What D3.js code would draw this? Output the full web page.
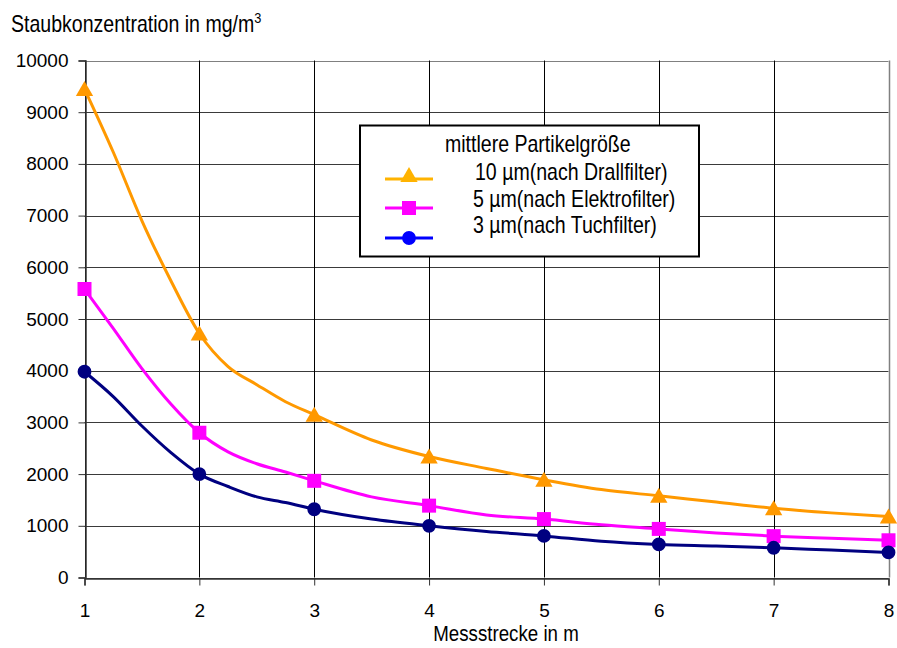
<!DOCTYPE html>
<html>
<head>
<meta charset="utf-8">
<script src="https://cdn.jsdelivr.net/npm/d3@7"></script>
<style>
  html, body { margin: 0; padding: 0; background: #fff; }
  svg { display: block; }
  text { font-family: "Liberation Sans", Arial, sans-serif; }
</style>
</head>
<body>
<svg id="chart" width="897" height="648"></svg>
<script>
// ---- data ----
const distances = [1, 1.25, 1.5, 1.75, 2, 2.25, 2.5, 2.75, 3, 3.5, 4, 4.5, 5, 5.5, 6, 6.5, 7, 7.5, 8];
const drallfilter = [9450, 8230, 6900, 5750, 4720, 4080, 3730, 3400, 3150, 2660, 2340, 2110, 1890, 1700, 1580, 1460, 1340, 1250, 1180];
const elektrofilter = [5580, 4820, 4040, 3360, 2800, 2430, 2200, 2040, 1870, 1560, 1390, 1210, 1130, 1020, 940, 860, 800, 760, 720];
const tuchfilter = [3980, 3500, 2930, 2420, 2000, 1760, 1560, 1450, 1320, 1130, 1000, 890, 805, 700, 640, 610, 575, 530, 485];
const xTicks = [1, 2, 3, 4, 5, 6, 7, 8];
const yTicks = [0, 1000, 2000, 3000, 4000, 5000, 6000, 7000, 8000, 9000, 10000];
const seriesNames = ["10 µm(nach Drallfilter)", "5 µm(nach Elektrofilter)", "3 µm(nach Tuchfilter)"];
const legendTitle = "mittlere Partikelgröße";
const yTitle = "Staubkonzentration in mg/m";
const xTitle = "Messstrecke in m";

const series = [
  { name: seriesNames[0], values: drallfilter, color: "#FF9900", legendColor: "#FFB300", symbol: d3.symbolTriangle, size: 130 },
  { name: seriesNames[1], values: elektrofilter, color: "#FF00FF", legendColor: "#FF00FF", symbol: d3.symbolSquare, size: 196 },
  { name: seriesNames[2], values: tuchfilter, color: "#000080", legendColor: "#0000FF", symbol: d3.symbolCircle, size: 150 }
];

const svg = d3.select("#chart");
const x = d3.scaleLinear().domain([1, 8]).range([84.5, 888.5]);
const y = d3.scaleLinear().domain([0, 10000]).range([577.5, 60.5]);

// condensed text helper
function narrowText(parent, tx, ty, size, str, anchor) {
  const g = parent.append("g").attr("transform", `translate(${tx},${ty}) scale(0.85,1)`);
  return g.append("text").attr("x", 0).attr("y", 0).attr("font-size", size)
    .attr("text-anchor", anchor || "start").attr("fill", "#000").text(str);
}

// grid lines
const grid = svg.append("g");
grid.selectAll(".hg").data(yTicks).join("line")
  .attr("x1", x(1)).attr("x2", x(8))
  .attr("y1", d => Math.round(y(d)) + 0.5).attr("y2", d => Math.round(y(d)) + 0.5)
  .attr("stroke", d => d === 10000 ? "#808080" : "#3a3a3a").attr("stroke-width", 1);
grid.selectAll(".vg").data(xTicks).join("line")
  .attr("x1", d => Math.round(x(d)) + 0.5).attr("x2", d => Math.round(x(d)) + 0.5)
  .attr("y1", y(10000)).attr("y2", y(0))
  .attr("stroke", d => d === 8 ? "#808080" : "#000").attr("stroke-width", d => d === 8 ? 1.5 : 1);

// axes
const yAxis = d3.axisLeft(y).tickValues(yTicks).tickSize(7).tickPadding(10).tickFormat(d3.format("d"));
const xAxis = d3.axisBottom(x).tickValues(xTicks).tickSize(7).tickPadding(18).tickFormat(d3.format("d"));
const gy = svg.append("g").attr("transform", `translate(${Math.round(x(1)) + 0.5},0)`).call(yAxis);
const gx = svg.append("g").attr("transform", `translate(0,${Math.round(y(0)) + 0.5})`).call(xAxis);
[gy, gx].forEach(g => {
  g.select(".domain").attr("stroke", "#333").attr("stroke-width", 1.5);
  g.selectAll(".tick line").attr("stroke", "#333");
  g.selectAll(".tick text").attr("font-family", "Liberation Sans, Arial, sans-serif").attr("font-size", 19).attr("fill", "#000");
});

// lines
const line = d3.line().x((d, i) => x(distances[i])).y(d => y(d)).curve(d3.curveMonotoneX);
series.forEach(s => {
  svg.append("path").datum(s.values).attr("d", line)
    .attr("fill", "none").attr("stroke", s.color).attr("stroke-width", 3).attr("stroke-linejoin", "round");
});
// markers at whole metres
series.forEach(s => {
  const pts = distances.map((d, i) => [d, s.values[i]]).filter(p => Number.isInteger(p[0]));
  svg.append("g").selectAll("path").data(pts).join("path")
    .attr("d", d3.symbol().type(s.symbol).size(s.size))
    .attr("transform", p => `translate(${x(p[0])},${y(p[1]) + (s.symbol === d3.symbolTriangle ? 2 : 0)})`)
    .attr("fill", s.color);
});

// titles
const yt = narrowText(svg, 11, 32, 23, yTitle);
yt.append("tspan").attr("dy", -9).attr("font-size", 15).text("3");
narrowText(svg, 506, 641, 22, xTitle, "middle");

// legend
const lg = svg.append("g");
lg.append("rect").attr("x", 360).attr("y", 125.5).attr("width", 339).attr("height", 131)
  .attr("fill", "#fff").attr("stroke", "#000").attr("stroke-width", 2);
narrowText(lg, 445, 152, 23, legendTitle);
const rowY = [179, 208, 238];
const textX = [475, 473, 473];
const textBase = [180, 207, 233];
series.forEach((s, i) => {
  lg.append("line").attr("x1", 385).attr("x2", 433).attr("y1", rowY[i]).attr("y2", rowY[i])
    .attr("stroke", s.legendColor).attr("stroke-width", 3);
  lg.append("path").attr("d", d3.symbol().type(s.symbol).size(s.size))
    .attr("transform", `translate(409,${rowY[i] + (s.symbol === d3.symbolTriangle ? -2 : 0)})`)
    .attr("fill", s.legendColor);
  narrowText(lg, textX[i], textBase[i], 23, s.name);
});
</script>
</body>
</html>
